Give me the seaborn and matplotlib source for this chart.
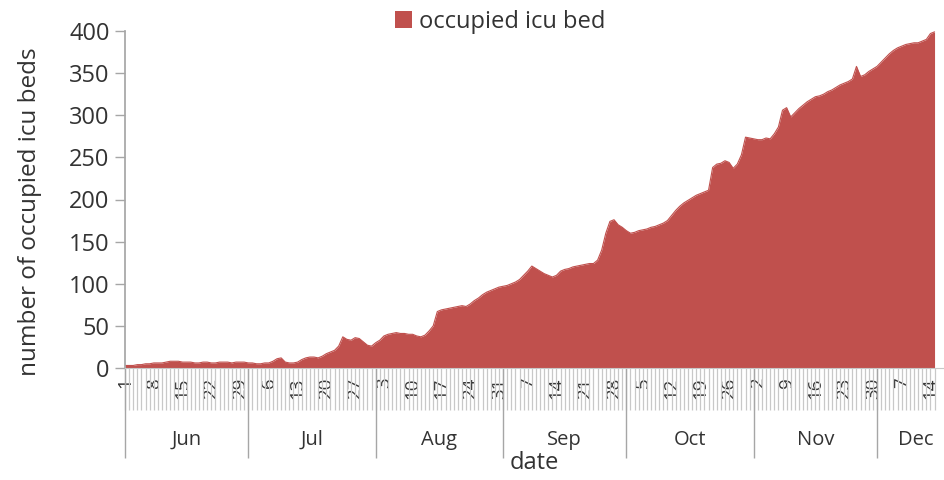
import matplotlib
matplotlib.use("Agg")
import matplotlib.pyplot as plt
import seaborn as sns
import numpy as np
import pandas as pd

# ---- data ----
start_date = "2020-06-01"
jun = [3, 3, 3, 4, 4, 5, 5, 6, 6, 6, 7, 8, 8, 8, 7, 7, 7, 6, 6, 7,
       7, 6, 6, 7, 7, 7, 6, 7, 7, 7]
jul = [6, 6, 5, 5, 6, 6, 8, 11, 12, 7, 6, 6, 7, 10, 12, 13, 13, 12, 14, 17,
       19, 21, 26, 37, 34, 33, 36, 35, 31, 27, 26]
aug = [30, 33, 38, 40, 41, 42, 41, 41, 40, 40, 38, 37, 39, 44, 50, 67, 69, 70, 71, 72,
       73, 74, 73, 76, 80, 83, 87, 90, 92, 94, 96]
sep = [97, 98, 100, 102, 105, 110, 115, 121, 118, 115, 112, 110, 108, 110, 115, 117, 118, 120, 121, 122,
       123, 124, 124, 128, 140, 160, 174, 176, 170, 167]
oct_ = [163, 160, 161, 163, 164, 165, 167, 168, 170, 172, 175, 181, 187, 192, 196, 199, 202, 205, 207, 209,
        211, 238, 242, 243, 246, 244, 237, 242, 253, 274, 273]
nov = [272, 271, 271, 273, 272, 278, 286, 306, 309, 298, 303, 308, 312, 316, 319, 322, 323, 325, 328, 330,
       333, 336, 338, 340, 343, 358, 346, 348, 352, 355]
dec = [358, 363, 368, 373, 377, 380, 382, 384, 385, 386, 386, 388, 390, 397, 399]
month_names = ["Jun", "Jul", "Aug", "Sep", "Oct", "Nov", "Dec"]
series_label = "occupied icu bed"
y_ticks = [0, 50, 100, 150, 200, 250, 300, 350, 400]

values = jun + jul + aug + sep + oct_ + nov + dec
dates = pd.date_range(start_date, periods=len(values), freq="D")
df = pd.DataFrame({"idx": np.arange(len(values)), "beds": values, "date": dates})

# ---- style ----
sns.set_theme(style="white")
plt.rcParams["font.family"] = ["Open Sans", "DejaVu Sans"]
txt = "#333333"
grey = "#a6a6a6"
red = "#C0504D"

W, H = 944, 480
fig = plt.figure(figsize=(W / 100, H / 100), dpi=100)
ax = fig.add_axes([125 / W, 1 - 368 / H, 1 - 125 / W, 337 / H])

x_end = len(values) + 1.3
ax.fill_between(df["idx"], 0, df["beds"], color=red, linewidth=0, label=series_label)
sns.lineplot(data=df, x="idx", y="beds", ax=ax, color=red, linewidth=0.8, legend=False)

ax.set_xlim(0, x_end)
ax.set_ylim(0, 400)
ax.set_yticks(y_ticks)
ax.set_yticklabels([str(v) for v in y_ticks], fontsize=17, color=txt)

# day ticks: minor every day (grey band), labels every 7 days
ax.set_xticks(df["idx"], minor=True)
lab_idx = df["idx"][::7]
ax.set_xticks(lab_idx)
ax.set_xticklabels([str(d.day) for d in df["date"][::7]], rotation=90,
                   fontsize=13.5, color=txt)
ax.xaxis.remove_overlapping_locs = False
ax.tick_params(axis="x", which="both", bottom=True)
ax.tick_params(axis="x", which="minor", length=30, width=0.9, color="#c8c8c8", direction="out")
ax.tick_params(axis="x", which="major", length=0, pad=7)
ax.tick_params(axis="y", which="major", length=7, width=1, color=grey, direction="out", pad=4, left=True)

for s in ["top", "right"]:
    ax.spines[s].set_visible(False)
ax.spines["left"].set_color(grey)
ax.spines["bottom"].set_color("#c8c8c8")
ax.spines["bottom"].set_linewidth(0.8)

# month groups
month_start = [i for i, d in enumerate(df["date"]) if d.day == 1]
xt = ax.get_xaxis_transform()
ax.vlines(month_start, -0.268, 0, transform=xt, clip_on=False, color=grey, linewidth=1)
bounds = month_start + [x_end + 2.5]
for k, name in enumerate(month_names):
    c = (bounds[k] + bounds[k + 1]) / 2
    ax.text(c, -0.214, name, transform=xt, ha="center", va="center", fontsize=14.5, color=txt,
            clip_on=False)

ax.set_xlabel("date", fontsize=17, color=txt)
ax.xaxis.set_label_coords(0.5, -0.245)
ax.set_ylabel("number of occupied icu beds", fontsize=17.5, color=txt)
ax.yaxis.set_label_coords(-0.101, 0.463)

fig.legend(loc="center", bbox_to_anchor=(0.53, 0.955), frameon=False, fontsize=17,
           handlelength=0.7, handleheight=0.7, handletextpad=0.3, labelcolor=txt)

fig.savefig("out.png", dpi=100)
